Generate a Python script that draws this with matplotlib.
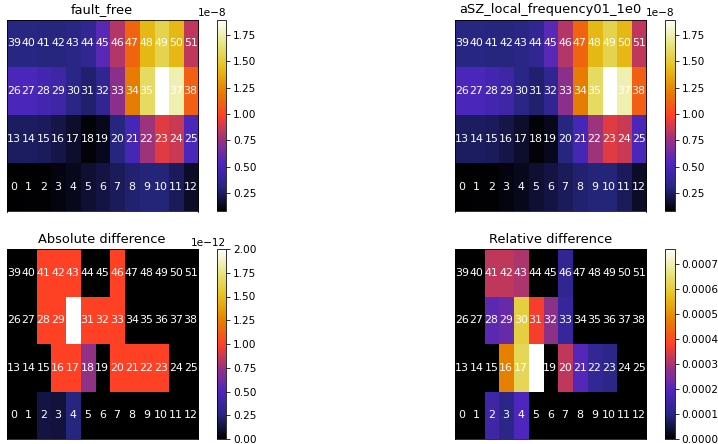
import numpy as np
import matplotlib
matplotlib.use("Agg")
import matplotlib.pyplot as plt

# Grid layout: 4 rows x 13 columns of cells, cell index = row * 13 + col
n_rows, n_cols = 4, 13

# Fault-free field (units of 1e-8), rows listed bottom to top
fault_free_row0 = [0.076, 0.085, 0.09, 0.11, 0.13, 0.17, 0.20, 0.24, 0.28, 0.29, 0.29, 0.24, 0.15]
fault_free_row1 = [0.25, 0.25, 0.24, 0.21, 0.16, 0.095, 0.13, 0.31, 0.50, 0.77, 0.92, 0.87, 0.52]
fault_free_row2 = [0.52, 0.52, 0.48, 0.45, 0.33, 0.27, 0.37, 0.72, 1.20, 1.60, 1.897, 1.75, 1.10]
fault_free_row3 = [0.32, 0.32, 0.31, 0.31, 0.33, 0.38, 0.57, 0.82, 1.12, 1.42, 1.56, 1.42, 0.85]

# Absolute difference between the two runs (units of 1e-12)
abs_diff_row0 = [0, 0, 0.14, 0.12, 0.25, 0, 0, 0, 0, 0, 0, 0, 0]
abs_diff_row1 = [0, 0, 0, 1.0, 1.0, 0.72, 0, 1.0, 1.0, 1.0, 1.0, 0, 0]
abs_diff_row2 = [0, 0, 1.0, 1.0, 2.0, 1.0, 1.0, 1.0, 0, 0, 0, 0, 0]
abs_diff_row3 = [0, 0, 1.0, 1.0, 1.0, 0, 0, 1.0, 0, 0, 0, 0, 0]

titles = ["fault_free", "aSZ_local_frequency01_1e0",
          "Absolute difference", "Relative difference"]

fault_free = np.array([fault_free_row0, fault_free_row1,
                       fault_free_row2, fault_free_row3]) * 1e-8
abs_diff = np.array([abs_diff_row0, abs_diff_row1,
                     abs_diff_row2, abs_diff_row3]) * 1e-12
faulty = fault_free + abs_diff
rel_diff = abs_diff / fault_free

fields = [fault_free, faulty, abs_diff, rel_diff]

W, H = 718, 444
fig = plt.figure(figsize=(W / 72, H / 72), dpi=72)

# Pixel boxes (left, top, right, bottom) for each map and its colorbar
ax_boxes = [(6.5, 19.5, 198.0, 211.5), (454.5, 19.5, 646.0, 211.5),
            (6.5, 249.0, 198.0, 439.0), (454.5, 249.0, 646.0, 439.0)]
cb_boxes = [(216.5, 19.5, 226.0, 211.5), (664.5, 19.5, 674.5, 211.5),
            (216.5, 249.0, 226.0, 439.0), (664.5, 249.0, 674.5, 439.0)]


def frac(box):
    l, t, r, b = box
    return [l / W, (H - b) / H, (r - l) / W, (b - t) / H]


for data, title, abox, cbox in zip(fields, titles, ax_boxes, cb_boxes):
    ax = fig.add_axes(frac(abox))
    im = ax.imshow(data, cmap="CMRmap", origin="lower", aspect="auto",
                   interpolation="nearest")
    for i in range(n_rows):
        for j in range(n_cols):
            ax.text(j, i, str(i * n_cols + j), ha="center", va="center",
                    color="w", fontsize=11)
    ax.set_xticks([])
    ax.set_yticks([])
    ax.set_title(title, fontsize=13)
    cax = fig.add_axes(frac(cbox))
    cb = fig.colorbar(im, cax=cax)
    cb.ax.tick_params(labelsize=10.5)
    cb.ax.yaxis.get_offset_text().set_fontsize(10.5)

fig.savefig("out.png", dpi=72)
